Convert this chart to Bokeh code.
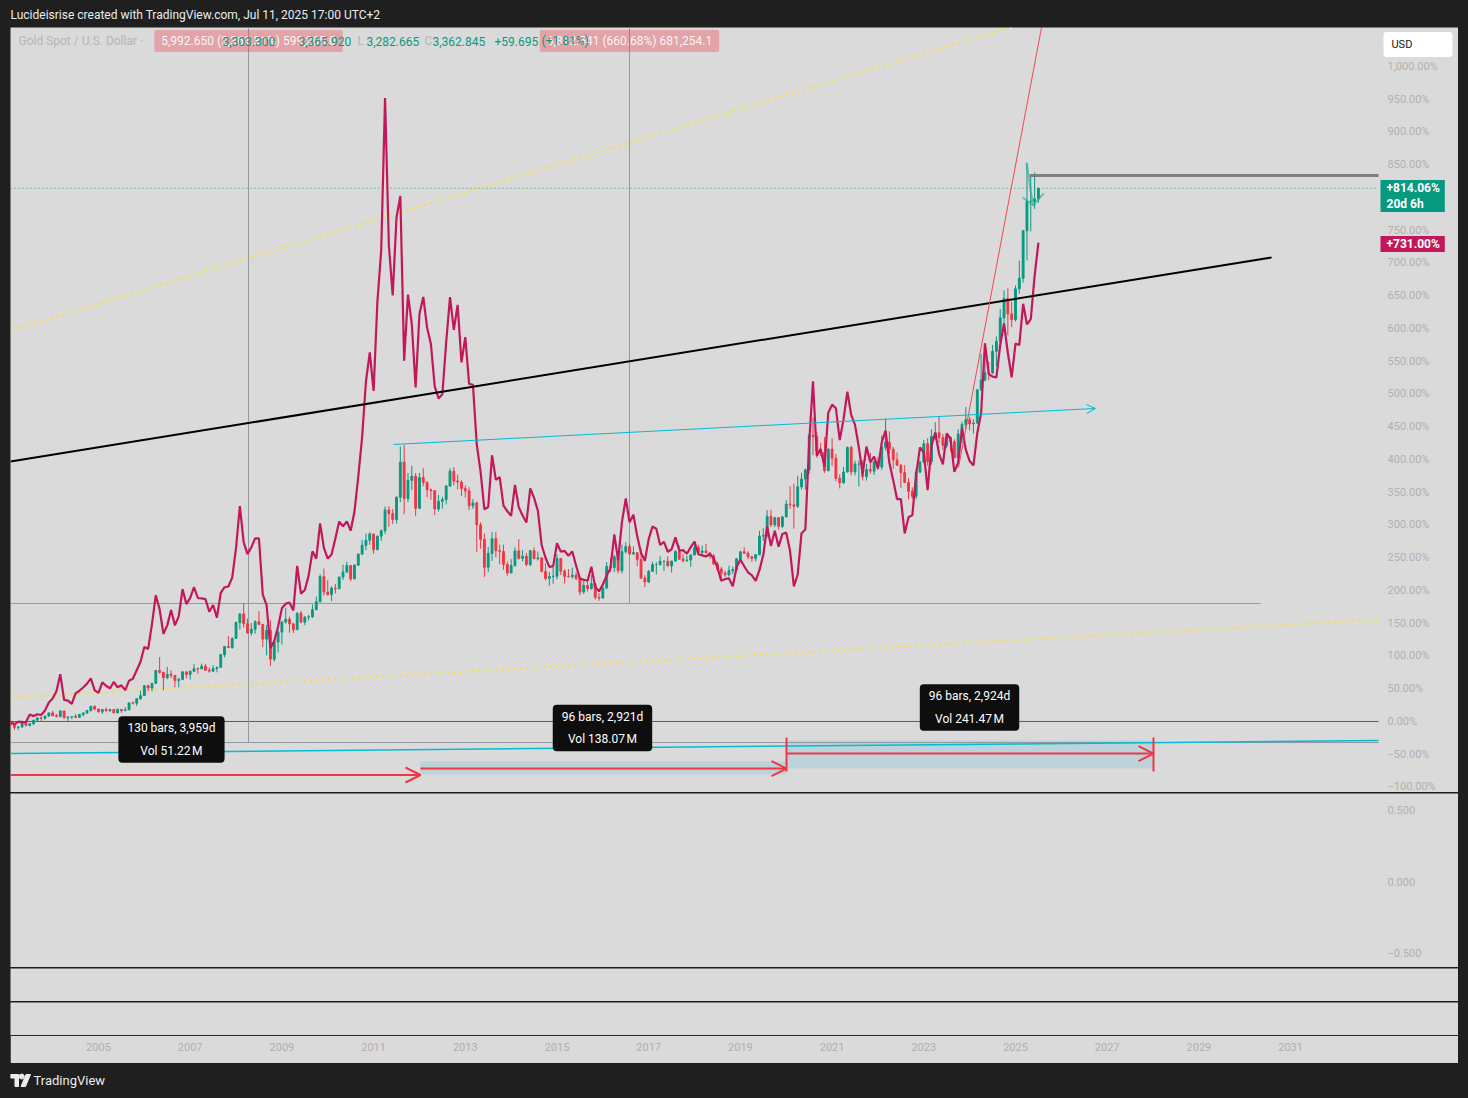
from bokeh.plotting import figure
from bokeh.models import ColumnDataSource, Range1d, FixedTicker, Label, Arrow, OpenHead, Spacer
from bokeh.layouts import column, row
from bokeh.embed import file_html
from bokeh.resources import INLINE
from bokeh.core.properties import value

# ------------------------------------------------------------------ data
first_year = 2003
gold_open_first = 347.2
gold_close = [
    367.9, 347.5, 334.9, 336.8, 361.4, 346.0, 354.8, 375.6, 388.0, 386.3, 398.4, 416.3,
    400.5, 396.8, 427.3, 388.5, 393.3, 395.8, 391.4, 407.3, 415.7, 429.4, 453.4, 438.0,
    422.2, 435.5, 428.7, 435.7, 416.3, 435.5, 429.1, 433.3, 472.3, 470.8, 495.8, 513.0,
    568.8, 556.0, 582.0, 654.5, 643.5, 613.5, 633.0, 626.0, 598.0, 604.0, 646.7, 632.0,
    650.5, 665.0, 663.0, 678.5, 656.0, 650.5, 665.5, 672.0, 743.0, 789.5, 783.5, 834.0,
    923.3, 971.5, 916.5, 865.0, 885.8, 928.3, 912.8, 830.8, 880.3, 718.0, 814.5, 869.8,
    927.3, 942.5, 916.5, 883.3, 975.5, 926.0, 954.0, 955.5, 995.8, 1040.0, 1182.0, 1095.0,
    1081.0, 1116.5, 1113.3, 1179.3, 1207.5, 1244.0, 1169.0, 1246.0, 1307.0, 1357.6, 1386.0, 1421.0,
    1333.0, 1409.0, 1439.0, 1556.0, 1536.0, 1502.0, 1628.0, 1825.0, 1620.0, 1722.0, 1746.0, 1565.0,
    1738.0, 1710.0, 1669.0, 1664.0, 1561.0, 1604.0, 1615.0, 1691.0, 1773.0, 1719.0, 1713.0, 1676.0,
    1663.0, 1579.0, 1595.0, 1472.0, 1391.0, 1234.0, 1312.0, 1395.0, 1327.0, 1323.0, 1250.0, 1202.0,
    1244.0, 1326.0, 1284.0, 1296.0, 1250.0, 1327.0, 1282.0, 1287.0, 1210.0, 1171.0, 1182.0, 1184.0,
    1283.0, 1212.0, 1183.0, 1182.0, 1190.0, 1172.0, 1095.0, 1132.0, 1115.0, 1142.0, 1065.0, 1061.0,
    1118.0, 1238.0, 1233.0, 1293.0, 1215.0, 1322.0, 1351.0, 1309.0, 1316.0, 1277.0, 1173.0, 1151.0,
    1211.0, 1249.0, 1249.0, 1268.0, 1268.0, 1242.0, 1269.0, 1322.0, 1280.0, 1271.0, 1275.0, 1303.0,
    1345.0, 1318.0, 1325.0, 1315.0, 1299.0, 1253.0, 1224.0, 1201.0, 1192.0, 1215.0, 1222.0, 1282.0,
    1321.0, 1313.0, 1292.0, 1284.0, 1305.0, 1409.0, 1413.0, 1520.0, 1472.0, 1513.0, 1464.0, 1517.0,
    1589.0, 1585.0, 1577.0, 1686.0, 1730.0, 1781.0, 1975.0, 1968.0, 1886.0, 1879.0, 1776.0, 1898.0,
    1847.0, 1734.0, 1708.0, 1769.0, 1907.0, 1770.0, 1814.0, 1814.0, 1743.0, 1783.0, 1774.0, 1829.0,
    1797.0, 1909.0, 1937.0, 1897.0, 1837.0, 1807.0, 1766.0, 1711.0, 1661.0, 1633.0, 1768.0, 1824.0,
    1928.0, 1827.0, 1969.0, 1990.0, 1963.0, 1919.0, 1965.0, 1940.0, 1849.0, 1983.0, 2036.0, 2063.0,
    2039.0, 2044.0, 2230.0, 2286.0, 2327.0, 2326.0, 2447.0, 2503.0, 2635.0, 2744.0, 2657.0, 2625.0,
    2798.0, 2858.0, 3124.0, 3289.0, 3289.0, 3303.15, 3362.845,
]
gold_high = [
    383.5, 382.1, 352.5, 341.0, 373.0, 371.0, 359.0, 376.0, 390.0, 395.5, 400.0, 417.0,
    427.0, 410.0, 428.0, 427.5, 395.0, 397.0, 409.0, 410.0, 419.0, 430.0, 455.0, 457.5,
    439.0, 437.0, 446.0, 437.0, 436.0, 441.0, 437.0, 448.0, 474.0, 481.0, 497.0, 541.0,
    571.0, 575.0, 585.0, 656.0, 730.0, 648.0, 675.0, 655.0, 630.0, 612.0, 650.0, 644.0,
    652.0, 690.0, 671.0, 693.0, 690.0, 671.0, 684.0, 676.0, 748.0, 790.0, 848.0, 842.0,
    930.0, 976.0, 1033.0, 945.0, 921.0, 936.0, 988.0, 915.0, 910.0, 937.0, 825.0, 880.0,
    930.0, 1007.0, 957.0, 920.0, 982.0, 989.0, 961.0, 967.0, 1025.0, 1070.0, 1195.0, 1227.0,
    1162.0, 1128.0, 1140.0, 1180.0, 1249.0, 1266.0, 1245.0, 1252.0, 1313.0, 1388.0, 1424.0, 1431.0,
    1424.0, 1412.0, 1447.0, 1576.0, 1577.0, 1561.0, 1632.0, 1912.0, 1921.0, 1764.0, 1804.0, 1764.0,
    1764.0, 1791.0, 1718.0, 1677.0, 1667.0, 1641.0, 1630.0, 1695.0, 1790.0, 1796.0, 1755.0, 1723.0,
    1694.0, 1684.0, 1617.0, 1605.0, 1487.0, 1424.0, 1348.0, 1433.0, 1434.0, 1361.0, 1361.0, 1267.0,
    1280.0, 1345.0, 1392.0, 1331.0, 1315.0, 1332.0, 1345.0, 1322.0, 1288.0, 1256.0, 1207.0, 1239.0,
    1307.0, 1287.0, 1224.0, 1224.0, 1232.0, 1205.0, 1175.0, 1170.0, 1157.0, 1191.0, 1142.0, 1088.0,
    1127.0, 1263.0, 1287.0, 1304.0, 1304.0, 1362.0, 1375.0, 1367.0, 1352.0, 1317.0, 1337.0, 1190.0,
    1220.0, 1264.0, 1263.0, 1296.0, 1271.0, 1296.0, 1270.0, 1331.0, 1357.0, 1306.0, 1299.0, 1305.0,
    1366.0, 1361.0, 1356.0, 1366.0, 1317.0, 1309.0, 1266.0, 1237.0, 1214.0, 1243.0, 1237.0, 1284.0,
    1326.0, 1346.0, 1324.0, 1300.0, 1306.0, 1439.0, 1453.0, 1555.0, 1557.0, 1517.0, 1516.0, 1523.0,
    1611.0, 1689.0, 1704.0, 1748.0, 1765.0, 1789.0, 1984.0, 2075.0, 1992.0, 1933.0, 1966.0, 1900.0,
    1959.0, 1871.0, 1757.0, 1798.0, 1913.0, 1917.0, 1832.0, 1834.0, 1834.0, 1814.0, 1877.0, 1831.0,
    1853.0, 1974.0, 2070.0, 1998.0, 1910.0, 1879.0, 1814.0, 1808.0, 1735.0, 1683.0, 1786.0, 1833.0,
    1949.0, 1959.0, 2009.0, 2049.0, 2079.0, 1983.0, 1988.0, 1949.0, 1953.0, 2009.0, 2052.0, 2135.0,
    2079.0, 2066.0, 2236.0, 2431.0, 2450.0, 2388.0, 2483.0, 2531.0, 2685.0, 2790.0, 2801.0, 2726.0,
    2817.0, 2956.0, 3128.0, 3500.0, 3435.0, 3452.0, 3365.92,
]
gold_low = [
    342.0, 344.5, 319.8, 319.5, 334.0, 341.0, 340.5, 350.0, 370.0, 367.0, 378.0, 395.0,
    399.0, 390.0, 391.0, 386.0, 371.0, 381.0, 387.0, 388.0, 396.0, 411.0, 424.0, 430.0,
    418.0, 411.0, 423.0, 420.0, 414.0, 414.0, 418.0, 429.0, 432.0, 463.0, 456.0, 490.0,
    513.0, 537.0, 538.0, 580.0, 637.0, 543.0, 605.0, 612.0, 560.0, 560.0, 600.0, 610.0,
    603.0, 645.0, 636.0, 663.0, 652.0, 642.0, 649.0, 644.0, 672.0, 728.0, 780.0, 776.0,
    835.0, 885.0, 895.0, 861.0, 850.0, 860.0, 910.0, 785.0, 740.0, 681.0, 705.0, 755.0,
    800.0, 917.0, 866.0, 865.0, 884.0, 920.0, 908.0, 935.0, 950.0, 997.0, 1040.0, 1075.0,
    1075.0, 1044.0, 1087.0, 1112.0, 1164.0, 1201.0, 1156.0, 1175.0, 1241.0, 1309.0, 1330.0, 1360.0,
    1309.0, 1330.0, 1382.0, 1422.0, 1462.0, 1477.0, 1481.0, 1600.0, 1532.0, 1600.0, 1668.0, 1523.0,
    1563.0, 1689.0, 1627.0, 1613.0, 1527.0, 1547.0, 1564.0, 1587.0, 1685.0, 1693.0, 1672.0, 1635.0,
    1626.0, 1555.0, 1562.0, 1321.0, 1338.0, 1180.0, 1207.0, 1270.0, 1290.0, 1251.0, 1221.0, 1187.0,
    1202.0, 1237.0, 1277.0, 1268.0, 1240.0, 1240.0, 1281.0, 1272.0, 1205.0, 1160.0, 1131.0, 1142.0,
    1167.0, 1191.0, 1142.0, 1175.0, 1170.0, 1162.0, 1077.0, 1085.0, 1098.0, 1108.0, 1052.0, 1046.0,
    1061.0, 1111.0, 1208.0, 1207.0, 1200.0, 1199.0, 1311.0, 1301.0, 1305.0, 1241.0, 1171.0, 1122.0,
    1146.0, 1208.0, 1194.0, 1244.0, 1214.0, 1237.0, 1204.0, 1267.0, 1275.0, 1260.0, 1264.0, 1236.0,
    1303.0, 1307.0, 1303.0, 1314.0, 1282.0, 1246.0, 1211.0, 1160.0, 1180.0, 1182.0, 1196.0, 1221.0,
    1276.0, 1309.0, 1281.0, 1266.0, 1267.0, 1301.0, 1382.0, 1400.0, 1459.0, 1459.0, 1446.0, 1454.0,
    1517.0, 1563.0, 1451.0, 1567.0, 1670.0, 1670.0, 1757.0, 1863.0, 1849.0, 1860.0, 1764.0, 1775.0,
    1802.0, 1717.0, 1677.0, 1705.0, 1766.0, 1750.0, 1751.0, 1688.0, 1722.0, 1721.0, 1759.0, 1753.0,
    1781.0, 1781.0, 1890.0, 1872.0, 1787.0, 1805.0, 1681.0, 1709.0, 1615.0, 1618.0, 1617.0, 1765.0,
    1823.0, 1805.0, 1810.0, 1950.0, 1932.0, 1893.0, 1903.0, 1884.0, 1846.0, 1811.0, 1932.0, 2010.0,
    2002.0, 1985.0, 2040.0, 2229.0, 2278.0, 2286.0, 2319.0, 2364.0, 2472.0, 2603.0, 2537.0, 2583.0,
    2614.0, 2772.0, 2833.0, 2957.0, 3121.0, 3247.0, 3282.665,
]
silver_close = [
    4.62, 4.60, 4.42, 4.61, 4.58, 4.57, 5.11, 5.00, 5.13, 5.08, 5.39, 5.96,
    6.24, 6.76, 7.95, 6.15, 6.09, 5.86, 6.60, 6.79, 7.02, 7.29, 7.66, 6.82,
    6.64, 7.38, 7.14, 6.95, 7.41, 7.03, 7.17, 6.83, 7.50, 7.64, 8.23, 8.83,
    9.87, 9.74, 11.49, 13.53, 12.53, 10.80, 11.40, 12.48, 11.40, 12.03, 13.96, 12.90,
    13.34, 14.10, 13.33, 13.30, 13.25, 12.36, 12.84, 11.95, 13.70, 14.09, 14.14, 14.77,
    16.86, 19.81, 17.26, 16.43, 16.90, 17.54, 17.53, 13.57, 12.82, 9.80, 10.30, 11.30,
    12.61, 12.93, 13.00, 12.45, 15.60, 13.64, 13.90, 14.91, 16.62, 16.10, 18.59, 16.87,
    16.11, 16.40, 17.52, 18.72, 18.39, 18.73, 18.08, 19.43, 21.90, 24.68, 28.60, 30.65,
    27.94, 34.24, 37.87, 48.60, 38.22, 34.67, 40.18, 41.68, 30.06, 34.73, 32.67, 28.18,
    33.34, 34.57, 32.41, 31.25, 28.26, 27.41, 27.70, 31.37, 34.55, 32.25, 34.00, 29.95,
    31.73, 28.43, 28.37, 24.16, 22.25, 19.58, 19.75, 23.40, 21.66, 21.86, 19.85, 19.45,
    19.13, 21.31, 19.73, 19.15, 18.65, 21.06, 20.39, 19.48, 17.05, 16.17, 15.53, 15.58,
    17.19, 16.60, 16.65, 16.31, 16.62, 15.61, 14.70, 14.62, 14.55, 15.53, 14.11, 13.80,
    14.28, 14.92, 15.42, 17.82, 15.99, 18.68, 20.36, 18.67, 19.21, 17.68, 16.51, 15.96,
    17.48, 18.37, 18.22, 17.07, 17.29, 16.59, 16.77, 17.61, 16.68, 16.71, 16.45, 16.92,
    17.31, 16.42, 16.34, 16.26, 16.44, 16.12, 15.47, 14.54, 14.67, 14.72, 14.16, 15.49,
    16.04, 15.57, 15.13, 14.93, 14.54, 15.31, 16.38, 18.38, 17.00, 18.08, 16.95, 17.85,
    17.94, 16.64, 14.15, 14.99, 17.90, 18.16, 24.25, 28.62, 23.36, 23.85, 22.58, 26.40,
    26.97, 26.71, 24.47, 25.94, 27.89, 26.25, 25.54, 23.96, 22.09, 24.01, 22.90, 23.31,
    22.46, 24.31, 25.14, 22.85, 21.64, 20.31, 20.30, 17.88, 19.03, 19.16, 22.02, 23.95,
    23.60, 20.93, 24.05, 24.99, 23.50, 22.76, 24.94, 24.55, 22.23, 22.87, 25.28, 23.79,
    22.99, 22.68, 24.96, 26.36, 31.30, 29.14, 28.94, 28.89, 31.16, 32.70, 30.61, 28.90,
    31.27, 31.17, 34.08, 32.63, 33.00, 36.04, 38.39,
]
year_ticks = [2005, 2007, 2009, 2011, 2013, 2015, 2017, 2019, 2021, 2023, 2025, 2027, 2029, 2031]
pct_ticks = list(range(-100, 1001, 50))
osc_ticks = [-0.5, 0.0, 0.5]
osc_tick_labels = ["\u22120.500", "0.000", "0.500"]

header_text = "Lucideisrise created with TradingView.com, Jul 11, 2025 17:00 UTC+2"
legend_name = "Gold Spot / U.S. Dollar \u00b7"
legend_vals = ["3,303.300", "3,365.920", "3,282.665", "3,362.845", "+59.695", "(+1.81%)"]
range_labels = ["130 bars, 3,959d\nVol 51.22\u202fM",
                "96 bars, 2,921d\nVol 138.07\u202fM",
                "96 bars, 2,924d\nVol 241.47\u202fM"]
measure_labels = ["5,992.650 (2,361.31%) 599,265.0", "6,812.541 (660.68%) 681,254.1"]
last_gold_tag = "+814.06%\n20d 6h"
last_silver_tag = "+731.00%"

assert len(gold_close) == len(gold_high) == len(gold_low) == len(silver_close)

# ------------------------------------------------------------------ style
FONT = "Roboto"
BG = "#dadada"
DARK = "#1f1f1f"
UP = "#089981"
DOWN = "#f23645"
MAG = "#c2185b"
CYAN = "#00bcd4"
GRAYL = "#9598a1"
AXTXT = "#b0b0b0"
W = 1448          # panel width (page x 10 .. 1458)

n = len(gold_close)
t = [first_year + i / 12 for i in range(n)]
gold_open = [gold_open_first] + gold_close[:-1]
bg_ = gold_close[0]
bs_ = silver_close[0]


def pg(v):
    return (v / bg_ - 1) * 100


src = ColumnDataSource(dict(
    x=t,
    top=[pg(max(o, c)) for o, c in zip(gold_open, gold_close)],
    bot=[pg(min(o, c)) for o, c in zip(gold_open, gold_close)],
    hi=[pg(v) for v in gold_high],
    lo=[pg(v) for v in gold_low],
    color=[UP if c >= o else DOWN for o, c in zip(gold_open, gold_close)],
))
silver_pct = [(v / bs_ - 1) * 100 for v in silver_close]

X0, X1 = 2003.081, 2032.917      # chart area (left edge .. price scale)
XR = 2034.662                    # right edge of the price scale
XLAB = 2033.114                  # price-scale label column
XTAG = 2032.961                  # left edge of price-scale tags

xr = Range1d(X0, XR)


def base_fig(height, yr, xaxis=False, bottom=0):
    p = figure(width=W, height=height, x_range=xr, y_range=yr,
               x_axis_location="below" if xaxis else None,
               y_axis_location=None,
               toolbar_location=None, output_backend="svg",
               min_border_left=0, min_border_right=0, min_border_top=0,
               min_border_bottom=bottom,
               background_fill_color=BG, border_fill_color=BG, outline_line_color=None)
    p.grid.visible = False
    return p


def price_scale(p, ticks, labels):
    p.text(x=[XLAB] * len(ticks), y=ticks, text=labels,
           text_font=value(FONT), text_font_size="11px", text_color=AXTXT,
           text_align="left", text_baseline="middle")


# ------------------------------------------------------------------ main pane
main = base_fig(765, Range1d(-108.4, 1059.5))
price_scale(main, pct_ticks, [(f"{v:,.2f}%").replace("-", "\u2212") for v in pct_ticks])

# date range shaded boxes
main.quad(left=[2012.023, 2020.006], right=[2020.006, 2028.010],
          bottom=[-80.9, -71.8], top=[-61.1, -29.0],
          fill_color="#9ecbd8", fill_alpha=0.5, line_color=None)

# horizontal / vertical helper lines
main.segment(x0=[X0, X0, X0, 2008.272, 2016.581],
             y0=[180.2, -32.1, 0.0, -32.1, 180.2],
             x1=[2030.344, X1, X1, 2008.272, 2016.581],
             y1=[180.2, -32.1, 0.0, 1059.5, 1059.5],
             line_color=[GRAYL, GRAYL, "#5d5d5d", GRAYL, GRAYL], line_width=1)

# current price dotted line
main.segment(x0=[X0], y0=[pg(gold_close[-1])], x1=[X1], y1=[pg(gold_close[-1])],
             line_color=UP, line_dash="1 3", line_width=1)

# yellow dotted trend lines
main.segment(x0=[X0, X0], y0=[596.9, 36.6], x1=[2026.854, X1], y1=[1101.7, 155.7],
             line_color="#f5e133", line_width=2, line_dash="2 4")

# candles
main.segment(x0="x", y0="lo", x1="x", y1="hi", line_color="color", line_width=1, source=src)
main.vbar(x="x", width=0.04, top="top", bottom="bot", fill_color="color",
          line_color="color", line_width=1, source=src)

# silver comparison line
main.line(t, silver_pct, line_color=MAG, line_width=2.2)

# trend lines
main.segment(x0=[X0], y0=[396.9], x1=[2030.584], y1=[708.4], line_color="#000000", line_width=2)
main.segment(x0=[X0], y0=[-48.9], x1=[X1], y1=[-29.0], line_color=CYAN, line_width=1.5)
main.segment(x0=[2023.757], y0=[387.8], x1=[2025.763], y1=[1132.0], line_color=DOWN,
             line_width=1, line_alpha=0.9)
main.add_layout(Arrow(end=OpenHead(size=9, line_color=CYAN, line_width=1),
                      x_start=2011.434, y_start=422.9, x_end=2026.745, y_end=477.9,
                      line_color=CYAN, line_width=1))

# all-time-high horizontal
main.segment(x0=[2025.305], y0=[833.6], x1=[X1], y1=[833.6], line_color="#7f7f7f", line_width=3)

# brush stroke
main.line([2025.240, 2025.284, 2025.327, 2025.393], [853.4, 833.6, 810.7, 787.8],
          line_color="#26a69a", line_alpha=0.6, line_width=2)
main.line([2025.153, 2025.393, 2025.611], [800.0, 787.8, 806.1],
          line_color="#26a69a", line_alpha=0.6, line_width=2)

# date range arrows
for xs, xe, yy in [(X0, 2012.023, -81.7), (2012.023, 2020.006, -71.8), (2020.006, 2028.010, -48.9)]:
    main.add_layout(Arrow(end=OpenHead(size=15, line_color=DOWN, line_width=2),
                          x_start=xs, y_start=yy, x_end=xe, y_end=yy,
                          line_color=DOWN, line_width=2))
main.segment(x0=[2020.006, 2028.010], y0=[-24.4, -24.4], x1=[2020.006, 2028.010],
             y1=[-76.3, -76.3], line_color=DOWN, line_width=2)

# range info boxes
for (lx, ly), txt in zip([(2006.592, -27.5), (2015.992, -9.9), (2023.997, 21.4)], range_labels):
    main.add_layout(Label(x=lx, y=ly, text=txt, text_align="center", text_baseline="middle",
                          text_color="#ffffff", text_font=FONT, text_font_size="12px",
                          text_line_height=1.6,
                          background_fill_color="#0e0e0e", border_radius=4,
                          padding=dict(left=9, right=9, top=5, bottom=5)))

# measure labels at the top (semi transparent red)
for lx, txt in zip([2008.272, 2016.581], measure_labels):
    main.add_layout(Label(x=lx, y=1038.9, text=txt, text_align="center", text_baseline="middle",
                          text_color="#ffffff", text_alpha=0.9, text_font=FONT,
                          text_font_size="12px",
                          background_fill_color=DOWN, background_fill_alpha=0.33, border_radius=2,
                          padding=dict(left=7, right=7, top=4, bottom=4)))

# legend line
main.add_layout(Label(x=2003.255, y=1038.2, text=legend_name, text_baseline="middle",
                      text_color="#b5b5b5", text_font=FONT, text_font_size="12px"))
for lx, txt in zip([2007.704, 2009.362, 2010.845, 2012.285, 2013.637, 2014.662], legend_vals):
    main.add_layout(Label(x=lx, y=1038.2, text=txt, text_baseline="middle",
                          text_color=UP, text_font=FONT, text_font_size="12px"))
for lx, txt in zip([2010.649, 2012.110], ["L", "C"]):
    main.add_layout(Label(x=lx, y=1038.2, text=txt, text_baseline="middle",
                          text_color="#b5b5b5", text_font=FONT, text_font_size="12px"))

# price-scale tags
main.add_layout(Label(x=XTAG, y=802.3, text=last_gold_tag, text_baseline="middle",
                      text_color="#ffffff", text_font=FONT, text_font_size="12px",
                      text_font_style="bold", text_line_height=1.15,
                      background_fill_color=UP,
                      padding=dict(left=6, right=5, top=1, bottom=1)))
main.add_layout(Label(x=XTAG, y=729.0, text=last_silver_tag, text_baseline="middle",
                      text_color="#ffffff", text_font=FONT, text_font_size="12px",
                      text_font_style="bold", background_fill_color=MAG,
                      padding=dict(left=6, right=5, top=1, bottom=1)))
main.add_layout(Label(x=2033.026, y=1033.6, text="USD", text_baseline="middle",
                      text_color="#131722", text_font=FONT, text_font_size="11px",
                      background_fill_color="#ffffff", border_radius=3,
                      padding=dict(left=8, right=40, top=6, bottom=6)))

# ------------------------------------------------------------------ lower panes
osc = base_fig(174, Range1d(-0.6056, 0.6197))
price_scale(osc, osc_ticks, osc_tick_labels)

p3 = base_fig(33, Range1d(0, 1))
p4 = base_fig(61, Range1d(0, 1), xaxis=True, bottom=28)
xa = p4.xaxis[0]
xa.ticker = FixedTicker(ticks=year_ticks)
xa.major_label_overrides = {y: str(y) for y in year_ticks}
xa.axis_line_color = "#2a2a2a"
xa.major_tick_line_color = None
xa.minor_tick_line_color = None
xa.major_tick_out = 0
xa.major_tick_in = 0
xa.major_label_standoff = 7
xa.major_label_text_font = FONT
xa.major_label_text_font_size = "11px"
xa.major_label_text_color = AXTXT


# ------------------------------------------------------------------ header / footer
def strip(height):
    p = figure(width=W, height=height, x_range=Range1d(0, W), y_range=Range1d(0, height),
               x_axis_location=None, y_axis_location=None, toolbar_location=None,
               output_backend="svg", min_border=0,
               background_fill_color=DARK, border_fill_color=DARK, outline_line_color=None)
    p.grid.visible = False
    return p


head = strip(27)
head.add_layout(Label(x=0, y=13, text=header_text, text_baseline="middle",
                      text_color="#ececec", text_font=FONT, text_font_size="12px"))

foot = strip(35)
foot.patch([0, 8, 8, 4.5, 4.5, 0], [24, 24, 12, 12, 20.5, 20.5], color="#ececec")
foot.scatter([11.2], [22.0], size=5, color="#ececec")
foot.patch([15.5, 20, 15, 10.5], [24, 24, 12, 12], color="#ececec")
foot.add_layout(Label(x=23, y=18, text="TradingView", text_baseline="middle",
                      text_color="#ececec", text_font=FONT, text_font_size="13px"))

panes = column(main, osc, p3, p4, spacing=1)
layout = row(Spacer(width=10, height=10), column(head, panes, foot, spacing=0), spacing=0)

html = file_html(layout, INLINE, title="Gold Spot / U.S. Dollar")
i = html.rfind("<body")
j = html.find(">", i)
html = html[:j] + ' style="background-color:#1f1f1f;"' + html[j:]
open("out.html", "w").write(html)
